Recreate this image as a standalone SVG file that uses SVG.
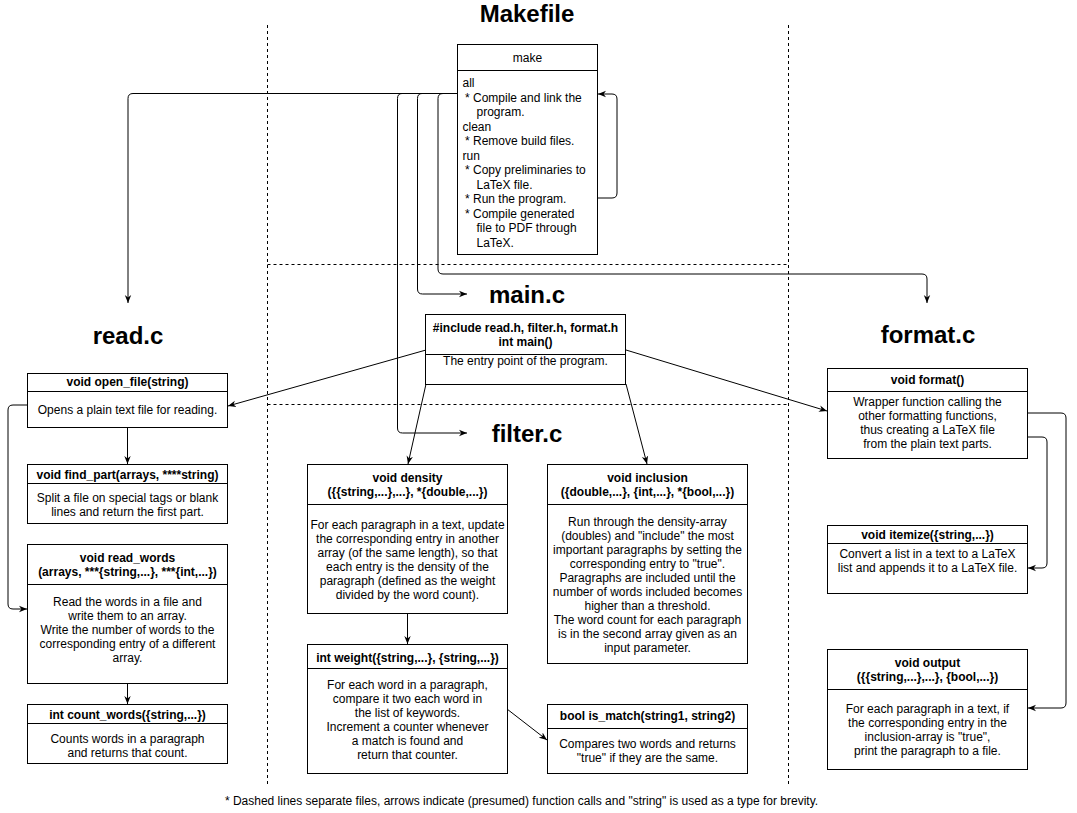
<svg xmlns="http://www.w3.org/2000/svg" width="1077" height="813" viewBox="0 0 1077 813">
<style>
.bg{fill:#fff}
.box{fill:#fff;stroke:#000;stroke-width:1}
.div{stroke:#000;stroke-width:1}
.t{font-family:"Liberation Sans",Arial,Helvetica,sans-serif;font-size:12px;fill:#000}
.c{text-anchor:middle}
.b{font-weight:bold}
.title{font-family:"Liberation Sans",Arial,Helvetica,sans-serif;font-size:24px;font-weight:bold;fill:#000;text-anchor:middle}
.dash{stroke:#000;stroke-width:1;stroke-dasharray:3,3;fill:none}
.conn{fill:none;stroke:#000;stroke-width:1;marker-end:url(#arr)}
.note{font-family:"Liberation Sans",Arial,Helvetica,sans-serif;font-size:12px;fill:#000;text-anchor:middle}
</style>
<defs>
<marker id="arr" viewBox="0 0 10 10" markerWidth="8" markerHeight="8" refX="10" refY="5" orient="auto" markerUnits="userSpaceOnUse">
<path d="M0,1 L10,5 L0,9 L3,5 z" fill="#000"/>
</marker>
</defs>
<rect class="bg" x="0" y="0" width="1077" height="813"/>

<g id="separators">
<line class="dash" x1="267.5" y1="25" x2="267.5" y2="785"/>
<line class="dash" x1="788.5" y1="25" x2="788.5" y2="785"/>
<line class="dash" x1="267.5" y1="264.5" x2="788.5" y2="264.5"/>
<line class="dash" x1="267.5" y1="404.5" x2="788.5" y2="404.5"/>
</g>

<g id="titles">
<text class="title" x="527" y="22">Makefile</text>
<text class="title" x="527" y="303">main.c</text>
<text class="title" x="527" y="442">filter.c</text>
<text class="title" x="128" y="344">read.c</text>
<text class="title" x="928" y="343">format.c</text>
</g>

<g id="connectors">
<path class="conn" d="M458,93.5 L133,93.5 Q128,93.5 128,98.5 L128,303"/>
<path class="conn" d="M458,93.5 L402,93.5 Q397.5,93.5 397.5,98.5 L397.5,428 Q397.5,433 402.5,433 L467,433"/>
<path class="conn" d="M458,93.5 L422,93.5 Q417.5,93.5 417.5,98.5 L417.5,289 Q417.5,294 422.5,294 L467,294"/>
<path class="conn" d="M458,93.5 L443,93.5 Q438,93.5 438,98.5 L438,269 Q438,274 443,274 L922,274 Q927,274 927,279 L927,303"/>
<path class="conn" d="M597.5,198 L612,198 Q617,198 617,193 L617,99 Q617,94 612,94 L598,94"/>
<path class="conn" d="M27,405 L13,405 Q8,405 8,410 L8,604 Q8,609 13,609 L27,609"/>
<path class="conn" d="M1027,413 L1061,413 Q1066,413 1066,418 L1066,703 Q1066,708 1061,708 L1028,708"/>
<path class="conn" d="M1027,437 L1042,437 Q1047,437 1047,442 L1047,563 Q1047,568 1042,568 L1028,568"/>
<path class="conn" d="M127.5,428 L127.5,464"/>
<path class="conn" d="M127.5,684 L127.5,704"/>
<path class="conn" d="M426,350 L228,406"/>
<path class="conn" d="M626,350 L827,411"/>
<path class="conn" d="M426,384 L408,464"/>
<path class="conn" d="M626,384 L647,464"/>
<path class="conn" d="M407.5,614 L407.5,644"/>
<path class="conn" d="M507,709 L547,740"/>
</g>

<g id="make">
<rect class="box" x="457.5" y="44.5" width="140" height="210"/>
<line class="div" x1="457.5" y1="70.5" x2="597.5" y2="70.5"/>
<text class="t c" x="527.5" y="61.5">make</text>
<text class="t" x="462.5" y="87">all</text>
<text class="t" x="465" y="101.5">* Compile and link the</text>
<text class="t" x="476.5" y="116">program.</text>
<text class="t" x="462.5" y="130.5">clean</text>
<text class="t" x="465" y="145">* Remove build files.</text>
<text class="t" x="462.5" y="159.5">run</text>
<text class="t" x="465" y="174">* Copy preliminaries to</text>
<text class="t" x="476.5" y="188.5">LaTeX file.</text>
<text class="t" x="465" y="203">* Run the program.</text>
<text class="t" x="465" y="217.5">* Compile generated</text>
<text class="t" x="476.5" y="232">file to PDF through</text>
<text class="t" x="476.5" y="246.5">LaTeX.</text>
</g>

<g id="main">
<rect class="box" x="425.5" y="314.5" width="200" height="70"/>
<line class="div" x1="425.5" y1="354.5" x2="625.5" y2="354.5"/>
<text class="t c b" x="525.5" y="331.5">#include read.h, filter.h, format.h</text>
<text class="t c b" x="525.5" y="345.5">int main()</text>
<text class="t c" x="525.5" y="365">The entry point of the program.</text>
</g>

<g id="open_file">
<rect class="box" x="27.5" y="373.5" width="200" height="54"/>
<line class="div" x1="27.5" y1="391.5" x2="227.5" y2="391.5"/>
<text class="t c b" x="127.5" y="386">void open_file(string)</text>
<text class="t c" x="127.5" y="414">Opens a plain text file for reading.</text>
</g>

<g id="find_part">
<rect class="box" x="27.5" y="464.5" width="200" height="59"/>
<line class="div" x1="27.5" y1="483.5" x2="227.5" y2="483.5"/>
<text class="t c b" x="127.5" y="478.5">void find_part(arrays, ****string)</text>
<text class="t c" x="127.5" y="501.5">Split a file on special tags or blank</text>
<text class="t c" x="127.5" y="515.5">lines and return the first part.</text>
</g>

<g id="read_words">
<rect class="box" x="27.5" y="544.5" width="200" height="139"/>
<line class="div" x1="27.5" y1="584.5" x2="227.5" y2="584.5"/>
<text class="t c b" x="127.5" y="561.5">void read_words</text>
<text class="t c b" x="127.5" y="576">(arrays, ***{string,...}, ***{int,...})</text>
<text class="t c" x="127.5" y="606">Read the words in a file and</text>
<text class="t c" x="127.5" y="620">write them to an array.</text>
<text class="t c" x="127.5" y="634">Write the number of words to the</text>
<text class="t c" x="127.5" y="648">corresponding entry of a different</text>
<text class="t c" x="127.5" y="662">array.</text>
</g>

<g id="count_words">
<rect class="box" x="27.5" y="704.5" width="200" height="59"/>
<line class="div" x1="27.5" y1="723.5" x2="227.5" y2="723.5"/>
<text class="t c b" x="127.5" y="718.5">int count_words({string,...})</text>
<text class="t c" x="127.5" y="743">Counts words in a paragraph</text>
<text class="t c" x="127.5" y="757">and returns that count.</text>
</g>

<g id="density">
<rect class="box" x="307.5" y="464.5" width="200" height="149"/>
<line class="div" x1="307.5" y1="504.5" x2="507.5" y2="504.5"/>
<text class="t c b" x="407.5" y="481.5">void density</text>
<text class="t c b" x="407.5" y="496">({{string,...},...}, *{double,...})</text>
<text class="t c" x="407.5" y="529">For each paragraph in a text, update</text>
<text class="t c" x="407.5" y="543">the corresponding entry in another</text>
<text class="t c" x="407.5" y="557">array (of the same length), so that</text>
<text class="t c" x="407.5" y="571">each entry is the density of the</text>
<text class="t c" x="407.5" y="585">paragraph (defined as the weight</text>
<text class="t c" x="407.5" y="599">divided by the word count).</text>
</g>

<g id="inclusion">
<rect class="box" x="547.5" y="464.5" width="200" height="199"/>
<line class="div" x1="547.5" y1="504.5" x2="747.5" y2="504.5"/>
<text class="t c b" x="647.5" y="481.5">void inclusion</text>
<text class="t c b" x="647.5" y="496">({double,...}, {int,...}, *{bool,...})</text>
<text class="t c" x="647.5" y="525.5">Run through the density-array</text>
<text class="t c" x="647.5" y="539.5">(doubles) and "include" the most</text>
<text class="t c" x="647.5" y="553.5">important paragraphs by setting the</text>
<text class="t c" x="647.5" y="567.5">corresponding entry to "true".</text>
<text class="t c" x="647.5" y="581.5">Paragraphs are included until the</text>
<text class="t c" x="647.5" y="595.5">number of words included becomes</text>
<text class="t c" x="647.5" y="609.5">higher than a threshold.</text>
<text class="t c" x="647.5" y="623.5">The word count for each paragraph</text>
<text class="t c" x="647.5" y="637.5">is in the second array given as an</text>
<text class="t c" x="647.5" y="651.5">input parameter.</text>
</g>

<g id="weight">
<rect class="box" x="307.5" y="644.5" width="200" height="129"/>
<line class="div" x1="307.5" y1="668.5" x2="507.5" y2="668.5"/>
<text class="t c b" x="407.5" y="661.5">int weight({string,...}, {string,...})</text>
<text class="t c" x="407.5" y="689">For each word in a paragraph,</text>
<text class="t c" x="407.5" y="703">compare it two each word in</text>
<text class="t c" x="407.5" y="717">the list of keywords.</text>
<text class="t c" x="407.5" y="731">Increment a counter whenever</text>
<text class="t c" x="407.5" y="745">a match is found and</text>
<text class="t c" x="407.5" y="759">return that counter.</text>
</g>

<g id="is_match">
<rect class="box" x="547.5" y="704.5" width="200" height="69"/>
<line class="div" x1="547.5" y1="728.5" x2="747.5" y2="728.5"/>
<text class="t c b" x="647.5" y="720">bool is_match(string1, string2)</text>
<text class="t c" x="647.5" y="747.5">Compares two words and returns</text>
<text class="t c" x="647.5" y="761.5">"true" if they are the same.</text>
</g>

<g id="format">
<rect class="box" x="827.5" y="368.5" width="200" height="90"/>
<line class="div" x1="827.5" y1="391.5" x2="1027.5" y2="391.5"/>
<text class="t c b" x="927.5" y="384">void format()</text>
<text class="t c" x="927.5" y="405.5">Wrapper function calling the</text>
<text class="t c" x="927.5" y="419.5">other formatting functions,</text>
<text class="t c" x="927.5" y="433.5">thus creating a LaTeX file</text>
<text class="t c" x="927.5" y="447.5">from the plain text parts.</text>
</g>

<g id="itemize">
<rect class="box" x="827.5" y="525.5" width="200" height="68"/>
<line class="div" x1="827.5" y1="543.5" x2="1027.5" y2="543.5"/>
<text class="t c b" x="927.5" y="538.5">void itemize({string,...})</text>
<text class="t c" x="927.5" y="557.5">Convert a list in a text to a LaTeX</text>
<text class="t c" x="927.5" y="571.5">list and appends it to a LaTeX file.</text>
</g>

<g id="output">
<rect class="box" x="827.5" y="649.5" width="200" height="120"/>
<line class="div" x1="827.5" y1="689.5" x2="1027.5" y2="689.5"/>
<text class="t c b" x="927.5" y="666.5">void output</text>
<text class="t c b" x="927.5" y="681">({{string,...},...}, {bool,...})</text>
<text class="t c" x="927.5" y="713">For each paragraph in a text, if</text>
<text class="t c" x="927.5" y="727">the corresponding entry in the</text>
<text class="t c" x="927.5" y="741">inclusion-array is "true",</text>
<text class="t c" x="927.5" y="755">print the paragraph to a file.</text>
</g>

<g id="footnote">
<text class="note" x="521.5" y="805">* Dashed lines separate files, arrows indicate (presumed) function calls and "string" is used as a type for brevity.</text>
</g>
</svg>
